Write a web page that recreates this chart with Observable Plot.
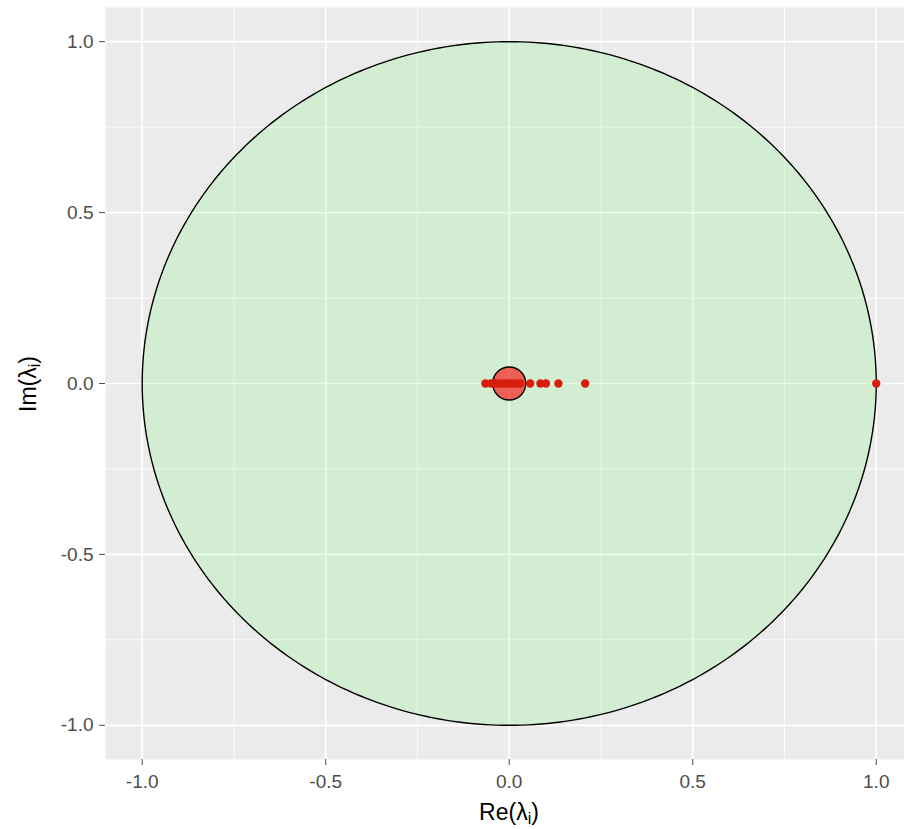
<!DOCTYPE html>
<html>
<head>
<meta charset="utf-8">
<script src="https://cdn.jsdelivr.net/npm/d3@7"></script>
<script src="https://cdn.jsdelivr.net/npm/@observablehq/plot@0.6"></script>
<style>
  html, body { margin: 0; padding: 0; background: #ffffff; }
  #chart svg { display: block; }
</style>
</head>
<body>
<div id="chart"></div>
<script>
const eigenRe = [-0.065, -0.05, -0.04, -0.03, -0.02, -0.01, 0.0, 0.01, 0.02, 0.03, 0.057, 0.085, 0.1, 0.134, 0.207, 1.0];
const eigenIm = [0, 0, 0, 0, 0, 0, 0, 0, 0, 0, 0, 0, 0, 0, 0, 0];
// Highlighted (large) point
const centerRe = [0.0];
const centerIm = [0.0];
// Axis ticks
const majorTicks = [-1.0, -0.5, 0.0, 0.5, 1.0];
const minorTicks = [-0.75, -0.25, 0.25, 0.75];
// Unit circle outline (geometry, degrees)
const circleDegrees = d3.range(0, 361, 1);

const eigenData = eigenRe.map((re, i) => ({re, im: eigenIm[i]}));
const centerData = centerRe.map((re, i) => ({re, im: centerIm[i]}));
const circleAll = circleDegrees.map(d => ({x: Math.cos(d * Math.PI / 180), y: Math.sin(d * Math.PI / 180)}));
const circleTop = circleDegrees.filter(d => d <= 180).map(d => {
  const t = d * Math.PI / 180;
  return {x: Math.cos(t), y1: -Math.sin(t), y2: Math.sin(t)};
});

const fmt = d => d.toFixed(1);
const FONT = "'Liberation Sans', Arial, sans-serif";

const plot = Plot.plot({
  width: 904,
  height: 829,
  marginLeft: 105,
  marginTop: 7,
  marginRight: 0,
  marginBottom: 70,
  style: {fontFamily: FONT, background: "#ffffff"},
  x: {domain: [-1.1, 1.077], axis: null},
  y: {domain: [-1.1, 1.1], axis: null},
  marks: [
    Plot.frame({fill: "#ebebeb", stroke: "none"}),
    Plot.gridX(minorTicks, {stroke: "#ffffff", strokeOpacity: 1, strokeWidth: 0.8}),
    Plot.gridY(minorTicks, {stroke: "#ffffff", strokeOpacity: 1, strokeWidth: 0.8}),
    Plot.gridX(majorTicks, {stroke: "#ffffff", strokeOpacity: 1, strokeWidth: 1.7}),
    Plot.gridY(majorTicks, {stroke: "#ffffff", strokeOpacity: 1, strokeWidth: 1.7}),
    Plot.areaY(circleTop, {x: "x", y1: "y1", y2: "y2", fill: "#00ff00", fillOpacity: 0.1}),
    Plot.line(circleAll, {x: "x", y: "y", stroke: "#000000", strokeWidth: 1.4}),
    Plot.dot(centerData, {x: "re", y: "im", r: 16.5, fill: "#ff0000", fillOpacity: 0.6, stroke: "#000000", strokeWidth: 1.4}),
    Plot.dot(eigenData, {x: "re", y: "im", r: 4.2, fill: "#d81d0c", stroke: "none"}),
    Plot.axisX({ticks: majorTicks, tickFormat: fmt, tickSize: 6, tickPadding: 9, fontSize: 19, color: "#4d4d4d", label: null}),
    Plot.axisY({ticks: majorTicks, tickFormat: fmt, tickSize: 6, tickPadding: 6, fontSize: 19, color: "#4d4d4d", label: null})
  ]
});

document.getElementById("chart").appendChild(plot);

// Axis titles with subscripts
const svg = d3.select(plot);
const xt = svg.append("text")
  .attr("x", 509).attr("y", 820)
  .attr("text-anchor", "middle")
  .attr("font-family", FONT).attr("font-size", 23).attr("fill", "#000000");
xt.append("tspan").text("Re(λ");
xt.append("tspan").attr("font-size", 16).attr("dy", 4).text("i");
xt.append("tspan").attr("dy", -4).text(")");

const yt = svg.append("text")
  .attr("transform", "translate(36,384) rotate(-90)")
  .attr("text-anchor", "middle")
  .attr("font-family", FONT).attr("font-size", 23).attr("fill", "#000000");
yt.append("tspan").text("Im(λ");
yt.append("tspan").attr("font-size", 16).attr("dy", 4).text("i");
yt.append("tspan").attr("dy", -4).text(")");
</script>
</body>
</html>
